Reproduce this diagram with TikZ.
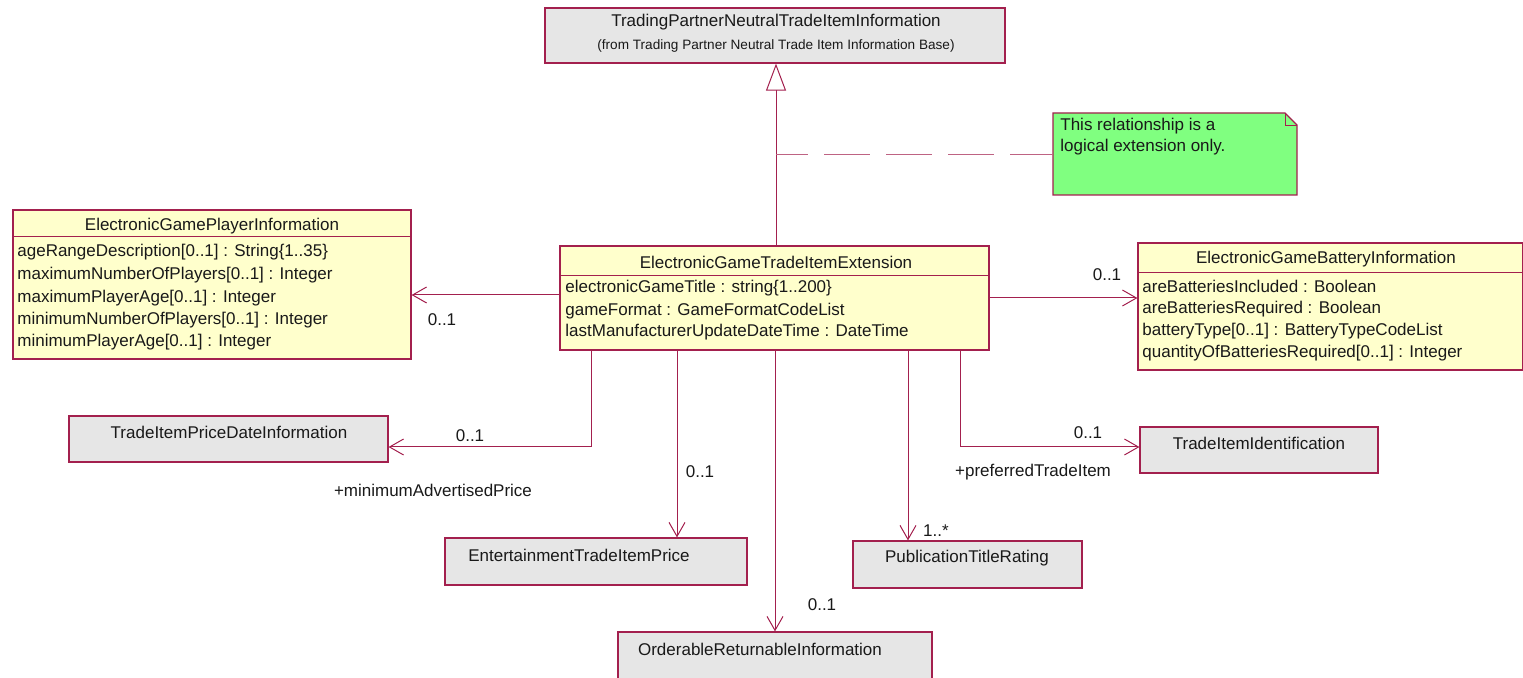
\documentclass[tikz,border=0pt]{standalone}
\usepackage{fontspec}
\setmainfont{Liberation Sans}
\usetikzlibrary{arrows.meta,fit}
\definecolor{umlborder}{RGB}{163,32,78}
\definecolor{umlyellow}{RGB}{255,255,204}
\definecolor{umlgray}{RGB}{230,230,230}
\definecolor{umlgreen}{RGB}{128,255,128}
\tikzset{
  classbox/.style={draw=umlborder, fill=umlyellow, line width=0.6pt, inner sep=0pt},
  graybox/.style={draw=umlborder, fill=umlgray, line width=0.6pt, inner sep=0pt},
  txt/.style={inner sep=0pt, font=\fontsize{8.5}{10}\selectfont, text=black!90},
  small/.style={inner sep=0pt, font=\fontsize{6.8}{8}\selectfont, text=black!90},
  attr/.style={txt, anchor=west},
  assoc/.style={draw=umlborder, line width=0.5pt, -{Straight Barb[length=7pt,width=8pt]}},
  gen/.style={draw=umlborder, line width=0.5pt, -{Triangle[open,length=13.5pt,width=10pt,fill=white]}},
  sep/.style={draw=umlborder, line width=0.5pt},
}
\begin{document}
\begin{tikzpicture}[x=0.5pt,y=-0.5pt]
\useasboundingbox (0,0) rectangle (1523,678);
% top generalization target
\node[graybox, fit={(545,8) (1005,63)}] (base) {};
\node[txt] (baset) at (776,22) {TradingPartnerNeutralTradeItemInformation};
\node[small] (bases) at (776,46) {(from Trading Partner Neutral Trade Item Information Base)};
% note
\node[inner sep=0pt, fit={(1053,113) (1297,195)}] (note) {};
\fill[umlgreen] (1053,113) -- (1285,113) -- (1297,125) -- (1297,195) -- (1053,195) -- cycle;
\draw[umlborder, line width=0.6pt] (1053,113) -- (1285,113) -- (1297,125) -- (1297,195) -- (1053,195) -- cycle;
\draw[umlborder, line width=0.4pt] (1285,113) -- (1285,125) -- (1297,125);
\node[attr] (n1) at (1060,126) {This relationship is a};
\node[attr] (n2) at (1060,147) {logical extension only.};
% player info
\node[classbox, fit={(13,210) (411,359)}] (player) {};
\node[txt] (playert) at (212,226) {ElectronicGamePlayerInformation};
\draw[sep] (13,237) -- (411,237);
\node[attr] at (17,252) {ageRangeDescription[0..1] : String\{1..35\}};
\node[attr] at (17,275) {maximumNumberOfPlayers[0..1] : Integer};
\node[attr] at (17,298) {maximumPlayerAge[0..1] : Integer};
\node[attr] at (17,320) {minimumNumberOfPlayers[0..1] : Integer};
\node[attr] at (17,342) {minimumPlayerAge[0..1] : Integer};
% main
\node[classbox, fit={(560,246) (989,350)}] (main) {};
\node[txt] (maint) at (776,262) {ElectronicGameTradeItemExtension};
\draw[sep] (560,276) -- (989,276);
\node[attr] at (565,288) {electronicGameTitle : string\{1..200\}};
\node[attr] at (565,311) {gameFormat : GameFormatCodeList};
\node[attr] at (565,332) {lastManufacturerUpdateDateTime : DateTime};
% battery
\node[classbox, fit={(1138,243) (1523,370)}] (batt) {};
\node[txt] (battt) at (1326,259) {ElectronicGameBatteryInformation};
\draw[sep] (1138,273) -- (1523,273);
\node[attr] at (1142,286) {areBatteriesIncluded : Boolean};
\node[attr] at (1142,309) {areBatteriesRequired : Boolean};
\node[attr] at (1142,331) {batteryType[0..1] : BatteryTypeCodeList};
\node[attr] at (1142,353) {quantityOfBatteriesRequired[0..1] : Integer};
% gray boxes
\node[graybox, fit={(69,416) (388,462)}] (tipd) {};
\node[txt] at (229,432) {TradeItemPriceDateInformation};
\node[graybox, fit={(445,538) (747,585)}] (etp) {};
\node[txt] at (579,555) {EntertainmentTradeItemPrice};
\node[graybox, fit={(618,632) (932,690)}] (ori) {};
\node[txt] at (760,649) {OrderableReturnableInformation};
\node[graybox, fit={(853,541) (1082,588)}] (ptr) {};
\node[txt] at (967,558) {PublicationTitleRating};
\node[graybox, fit={(1140,427) (1378,473)}] (tii) {};
\node[txt] at (1259,443) {TradeItemIdentification};
% generalization
\draw[gen] (main.north -| 776,0) -- (base.south -| 776,0);
\coordinate (trunk) at (776,155);
\draw[umlborder!70, line width=0.5pt, dash pattern=on 23pt off 8pt, dash phase=7pt] (trunk) -- (note.west |- trunk);
% associations
\draw[assoc] (main.west |- 0,295) -- (player.east |- 0,295);
\node[txt] at (442,320) {0..1};
\draw[assoc] (main.east |- 0,298) -- (batt.west |- 0,298);
\node[txt] at (1107,275) {0..1};
\draw[assoc] (main.south -| 591,0) |- (tipd.east |- 0,447);
\node[txt] at (470,436) {0..1};
\node[txt] at (433,490) {+minimumAdvertisedPrice};
\draw[assoc] (main.south -| 677,0) -- (etp.north -| 677,0);
\node[txt] at (700,472) {0..1};
\draw[assoc] (main.south -| 775,0) -- (ori.north -| 775,0);
\node[txt] at (822,605) {0..1};
\draw[assoc] (main.south -| 908,0) -- (ptr.north -| 908,0);
\node[txt] at (936,531) {1..*};
\draw[assoc] (main.south -| 960,0) |- (tii.west |- 0,447);
\node[txt] at (1088,433) {0..1};
\node[txt] at (1033,472) {+preferredTradeItem};
\end{tikzpicture}
\end{document}
